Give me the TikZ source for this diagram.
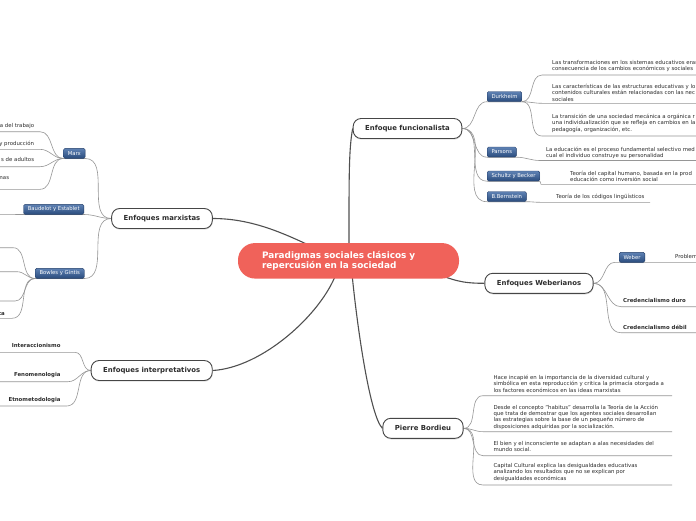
\documentclass[tikz,border=0pt]{standalone}
\usepackage{fontspec}
\setmainfont{DejaVu Sans}
\usetikzlibrary{shadows}
\pgfdeclarelayer{bg}
\pgfsetlayers{bg,main}
\definecolor{central}{RGB}{240,98,90}
\definecolor{txt}{RGB}{45,45,45}
\definecolor{topicline}{RGB}{70,70,70}
\definecolor{mainline}{RGB}{80,80,80}
\definecolor{subline}{RGB}{150,150,150}
\definecolor{bluetop}{RGB}{95,130,180}
\definecolor{bluebot}{RGB}{42,76,125}
\definecolor{blueedge}{RGB}{35,62,105}
\tikzset{
  topic/.style={draw=topicline, line width=0.9pt, fill=white, rounded corners=8pt,
    font=\fontsize{6.9}{8}\selectfont\bfseries, text=txt, inner xsep=12pt, inner ysep=0pt,
    minimum height=20pt, drop shadow={shadow xshift=0.4pt, shadow yshift=-1.2pt, opacity=0.25}},
  centralnode/.style={fill=central, rounded corners=17pt, text=white,
    font=\fontsize{8.9}{10.6}\selectfont\bfseries, align=left, text width=173pt,
    inner xsep=24pt, inner ysep=0pt, minimum height=35.5pt},
  bluebox/.style={draw=blueedge, line width=0.4pt, top color=bluetop, bottom color=bluebot,
    rounded corners=1.5pt, text=white, font=\fontsize{5.3}{6}\selectfont,
    inner xsep=4.3pt, inner ysep=0pt, minimum height=10pt, anchor=west,
    drop shadow={shadow xshift=0.3pt, shadow yshift=-0.8pt, opacity=0.2}},
  leaf/.style={font=\fontsize{5.4}{6.3}\selectfont, text=txt, inner sep=0pt, align=left,
    anchor=north west, execute at begin node={\rule{0pt}{4.2pt}}},
  leafr/.style={leaf, align=right, anchor=north east},
  bleaf/.style={leaf, font=\fontsize{5.4}{6.3}\selectfont\bfseries},
  bleafr/.style={leafr, font=\fontsize{5.4}{6.3}\selectfont\bfseries},
  mainconn/.style={draw=mainline, line width=1.1pt},
  subconn/.style={draw=subline, line width=0.6pt},
}
\begin{document}
\begin{tikzpicture}[x=1pt,y=-1pt]
\useasboundingbox (0,0) rectangle (696,520);

% ---------- central and topics ----------
\node[centralnode] (c) at (348.5,260.8) {Paradigmas sociales clásicos y\\repercusión en la sociedad};
\node[topic] (fun) at (407.5,128.5) {Enfoque funcionalista};
\node[topic] (marx) at (162,218.5) {Enfoques marxistas};
\node[topic] (interp) at (151.7,370.5) {Enfoques interpretativos};
\node[topic] (weber) at (539,283.3) {Enfoques Weberianos};
\node[topic] (bord) at (423,428.3) {Pierre Bordieu};

% ---------- sub boxes ----------
\node[bluebox] (durk) at (487,96.5) {Durkheim};
\node[bluebox] (pars) at (487,152) {Parsons};
\node[bluebox] (schu) at (487,176) {Schultz y Becker};
\node[bluebox] (bern) at (487,196.5) {B.Bernstein};
\node[bluebox] (wb) at (619,257.3) {Weber};
\node[bluebox] (mx) at (63.3,153.3) {Marx};
\node[bluebox] (baud) at (23.3,209.3) {Baudelot y Establet};
\node[bluebox] (bowl) at (35,273.3) {Bowles y Gintis};

% ---------- leaves: funcionalista ----------
\node[leaf] (d1) at (552,60.1) {Las transformaciones en los sistemas educativos eran\\consecuencia de los cambios económicos y sociales};
\node[leaf] (d2) at (552,84.1) {Las características de las estructuras educativas y lo\\contenidos culturales están relacionadas con las nec\\sociales};
\node[leaf] (d3) at (552,114.1) {La transición de una sociedad mecánica a orgánica r\\una individualización que se refleja en cambios en la\\pedagogía, organización, etc.};
\node[leaf] (p1) at (546,146.7) {La educación es el proceso fundamental selectivo med\\cual el individuo construye su personalidad};
\node[leaf] (s1) at (570,170.7) {Teoría del capital humano, basada en la prod\\educación como inversión social};
\node[leaf] (b1) at (556,194.1) {Teoría de los códigos lingüísticos};

% ---------- leaves: weberianos ----------
\node[leaf] (w1) at (675,254.1) {Problem};
\node[bleaf] (w2) at (623,298.1) {Credencialismo duro};
\node[bleaf] (w3) at (623,324.7) {Credencialismo débil};

% ---------- leaves: Bordieu ----------
\node[leaf] (o1) at (493.3,375.1) {Hace incapié en la importancia de la diversidad cultural y\\simbólica en esta reproducción y critica la primacía otorgada a\\los factores económicos en las ideas marxistas};
\node[leaf] (o2) at (493.3,404.7) {Desde el concepto "habitus" desarrolla la Teoría de la Acción\\que trata de demostrar que los agentes sociales desarrollan\\las estrategias sobre la base de un pequeño número de\\disposiciones adquiridas por la socialización.};
\node[leaf] (o3) at (493.3,440.7) {El bien y el inconsciente se adaptan a alas necesidades del\\mundo social.};
\node[leaf] (o4) at (493.3,463.1) {Capital Cultural explica las desigualdades educativas\\analizando los resultados que no se explican por\\desigualdades económicas};

% ---------- leaves: marxistas ----------
\node[leafr] (m1) at (34.3,123.1) {a del trabajo};
\node[leafr] (m2) at (34.3,140.7) {y producción};
\node[leafr] (m3) at (34.3,157.4) {s de adultos};
\node[leafr] (m4) at (9.3,174.7) {mas};
\node[bleafr] (g4) at (5,310.7) {ta};

% ---------- leaves: interpretativos ----------
\node[bleafr] (i1) at (60.7,343.1) {Interaccionismo};
\node[bleafr] (i2) at (60.7,372.4) {Fenomenologia};
\node[bleafr] (i3) at (60.7,397.4) {Etnometodologia};

% ---------- underline coordinates ----------
\coordinate (d1a) at (542,75);    \coordinate (d1b) at (700,75);
\coordinate (d2a) at (542,103.3); \coordinate (d2b) at (700,103.3);
\coordinate (d3a) at (542,136);   \coordinate (d3b) at (700,136);
\coordinate (p1a) at (540,160.5); \coordinate (p1b) at (700,160.5);
\coordinate (s1a) at (541,184.3); \coordinate (s1b) at (700,184.3);
\coordinate (b1a) at (540,202.3); \coordinate (b1b) at (650,202.3);
\coordinate (w1a) at (615,262.3); \coordinate (w1b) at (700,262.3);
\coordinate (w2a) at (621,306.7); \coordinate (w2b) at (700,306.7);
\coordinate (w3a) at (621,332.7); \coordinate (w3b) at (700,332.7);
\coordinate (o1a) at (483,395.7); \coordinate (o1b) at (672,395.7);
\coordinate (o2a) at (483,431.7); \coordinate (o2b) at (672,431.7);
\coordinate (o3a) at (483,455.7); \coordinate (o3b) at (672,455.7);
\coordinate (o4a) at (483,485);   \coordinate (o4b) at (672,485);
\coordinate (m1a) at (40,131.7);  \coordinate (m1b) at (-5,131.7);
\coordinate (m2a) at (40,149.3);  \coordinate (m2b) at (-5,149.3);
\coordinate (m3a) at (40,166.7);  \coordinate (m3b) at (-5,166.7);
\coordinate (m4a) at (40,189.3);  \coordinate (m4b) at (-5,189.3);
\coordinate (bda) at (-5,214.3);
\coordinate (g1a) at (13,247.7);  \coordinate (g1b) at (-5,247.7);
\coordinate (g2a) at (17,271.7);  \coordinate (g2b) at (-5,271.7);
\coordinate (g3a) at (15,301);    \coordinate (g3b) at (-5,301);
\coordinate (g4a) at (12,318.3);  \coordinate (g4b) at (-5,318.3);
\coordinate (i1a) at (75,352.3);  \coordinate (i1b) at (-5,352.3);
\coordinate (i2a) at (68,381.7);  \coordinate (i2b) at (-5,381.7);
\coordinate (i3a) at (66.7,406);  \coordinate (i3b) at (-5,406);

% central attachment points
\coordinate (cF) at (349,250);
\coordinate (cM) at (315,248);
\coordinate (cI) at (336,274);
\coordinate (cB) at (352,274);
\coordinate (cW) at (430,272);

\begin{pgfonlayer}{bg}
\fill[white] (0,0) rectangle (696,520);
% main connectors
\draw[mainconn] (cF) .. controls +(0,-70) and +(-4,20) .. (fun.west);
\draw[mainconn] (cM) .. controls +(-30,-14) and +(40,0) .. (marx.east);
\draw[mainconn] (cI) .. controls +(-15,40) and +(50,-3) .. (interp.east);
\draw[mainconn] (cB) .. controls +(6,60) and +(-12,-12) .. (bord.west);
\draw[mainconn] (cW) .. controls +(25,8) and +(-25,0) .. (weber.west);

% funcionalista
\draw[subconn] (fun.east) to[out=0,in=180] (durk.south west) -- (durk.south east);
\draw[subconn] (fun.east) to[out=0,in=180] (pars.south west) -- (pars.south east);
\draw[subconn] (fun.east) to[out=0,in=180] (schu.south west) -- (schu.south east);
\draw[subconn] (fun.east) to[out=0,in=180] (bern.south west) -- (bern.south east);
\draw[subconn] (durk.south east) to[out=0,in=180] (d1a) -- (d1b);
\draw[subconn] (durk.south east) to[out=0,in=180] (d2a) -- (d2b);
\draw[subconn] (durk.south east) to[out=0,in=180] (d3a) -- (d3b);
\draw[subconn] (pars.south east) to[out=0,in=180] (p1a) -- (p1b);
\draw[subconn] (schu.south east) to[out=0,in=180] (s1a) -- (s1b);
\draw[subconn] (bern.south east) to[out=0,in=180] (b1a) -- (b1b);

% weberianos
\draw[subconn] (weber.east) to[out=0,in=180] (w1a) -- (w1b);
\draw[subconn] (weber.east) to[out=0,in=180] (w2a) -- (w2b);
\draw[subconn] (weber.east) to[out=0,in=180] (w3a) -- (w3b);

% Bordieu
\draw[subconn] (bord.east) to[out=0,in=180] (o1a) -- (o1b);
\draw[subconn] (bord.east) to[out=0,in=180] (o2a) -- (o2b);
\draw[subconn] (bord.east) to[out=0,in=180] (o3a) -- (o3b);
\draw[subconn] (bord.east) to[out=0,in=180] (o4a) -- (o4b);

% marxistas
\draw[subconn] (marx.west) to[out=180,in=0] (mx.south east) -- (mx.south west);
\draw[subconn] (marx.west) to[out=180,in=0] (baud.south east) -- (baud.south west) -- (bda);
\draw[subconn] (marx.west) to[out=180,in=0] (bowl.south east) -- (bowl.south west);
\draw[subconn] (mx.south west) to[out=180,in=0] (m1a) -- (m1b);
\draw[subconn] (mx.south west) to[out=180,in=0] (m2a) -- (m2b);
\draw[subconn] (mx.south west) to[out=180,in=0] (m3a) -- (m3b);
\draw[subconn] (mx.south west) to[out=180,in=0] (m4a) -- (m4b);
\draw[subconn] (bowl.south west) to[out=180,in=0] (g1a) -- (g1b);
\draw[subconn] (bowl.south west) to[out=180,in=0] (g2a) -- (g2b);
\draw[subconn] (bowl.south west) to[out=180,in=0] (g3a) -- (g3b);
\draw[subconn] (bowl.south west) to[out=180,in=0] (g4a) -- (g4b);

% interpretativos
\draw[subconn] (interp.west) to[out=180,in=0] (i1a) -- (i1b);
\draw[subconn] (interp.west) to[out=180,in=0] (i2a) -- (i2b);
\draw[subconn] (interp.west) to[out=180,in=0] (i3a) -- (i3b);
\end{pgfonlayer}
\end{tikzpicture}
\end{document}
